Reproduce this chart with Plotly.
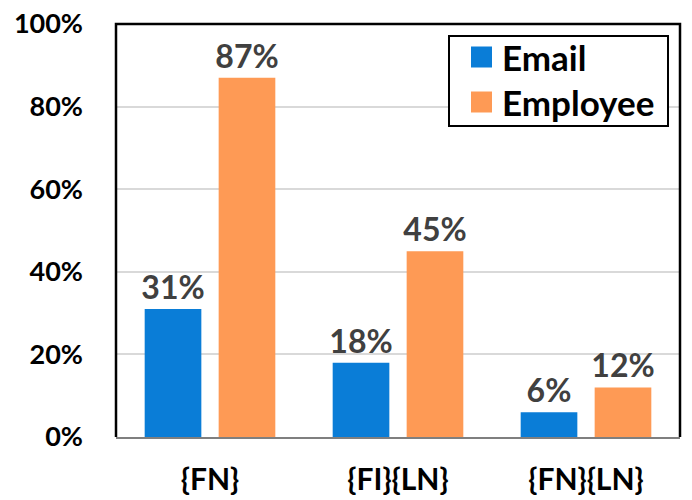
import plotly.graph_objects as go

categories = ["{FN}", "{FI}{LN}", "{FN}{LN}"]
series_names = ["Email", "Employee"]
email_values = [31, 18, 6]
employee_values = [87, 45, 12]
colors = ["#0a7dd7", "#fe9a55"]
y_ticks = [0, 20, 40, 60, 80, 100]
y_tick_labels = ["0%", "20%", "40%", "60%", "80%", "100%"]

FONT = "Lato"

fig = go.Figure()
for name, vals, col in zip(series_names, [email_values, employee_values], colors):
    fig.add_trace(go.Bar(
        x=categories, y=vals, name=name, marker=dict(color=col, line=dict(width=0)),
        text=[f"{v}%" for v in vals], textposition="outside", constraintext="none",
        textfont=dict(family=FONT, size=32, color="#404040", weight="bold"),
        cliponaxis=False, showlegend=False,
    ))

fig.update_layout(
    width=692, height=500,
    margin=dict(l=116, r=12, t=24, b=63),
    paper_bgcolor="white", plot_bgcolor="white",
    barmode="group", bargap=0.213, bargroupgap=0.234,
    showlegend=False,
    font=dict(family=FONT, color="black"),
)
fig.update_yaxes(
    range=[0, 100], tickvals=y_ticks, ticktext=y_tick_labels,
    tickfont=dict(family=FONT, size=27, color="black", weight="bold"),
    showgrid=True, gridcolor="#d9d9d9", gridwidth=2,
    zeroline=False, showline=False, ticks="", ticklabelstandoff=32,
    automargin=False,
)
fig.update_xaxes(
    tickfont=dict(family=FONT, size=30, color="black", weight="bold"),
    showline=True, linecolor="#7f7f7f", linewidth=2, ticks="",
    ticklabelstandoff=15, automargin=False,
)
# plot frame: left, top, right
fig.add_shape(type="path", xref="paper", yref="paper",
              path="M0,0 L0,1 L1,1 L1,0", line=dict(color="black", width=2.5))

# custom legend
fig.add_shape(type="rect", xref="paper", yref="paper",
              x0=(449-116)/564, x1=(668-116)/564, y0=(437-126)/413, y1=(437-36)/413,
              line=dict(color="black", width=2), fillcolor="white")
row_y = [57, 102]
for name, col, yy in zip(series_names, colors, row_y):
    fig.add_shape(type="rect", xref="paper", yref="paper",
                  x0=(471-116)/564, x1=(492-116)/564,
                  y0=(437-yy-10.5)/413, y1=(437-yy+10.5)/413,
                  line=dict(width=0), fillcolor=col)
    fig.add_annotation(text=name, xref="paper", yref="paper",
                       x=(500-116)/564, y=(437-yy)/413, xanchor="left", yanchor="middle",
                       showarrow=False, font=dict(family=FONT, size=35, color="black", weight="bold"))

fig.write_html("out.html", config={"displayModeBar": False},
               post_script="document.body.style.margin='0';document.body.style.overflow='hidden';")
